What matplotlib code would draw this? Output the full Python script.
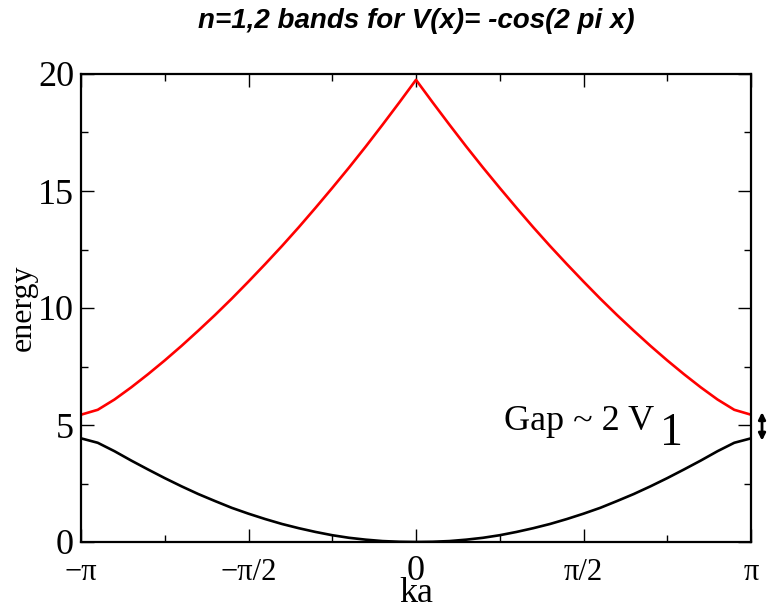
import numpy as np
import matplotlib
matplotlib.use("Agg")
import matplotlib.pyplot as plt
from matplotlib.ticker import MultipleLocator

# ka grid, -pi .. pi in steps of pi/20
ka = np.linspace(-np.pi, np.pi, 41)

band1 = [4.43, 4.24, 3.88, 3.48, 3.10, 2.73, 2.38, 2.05, 1.75, 1.46, 1.21,
         0.98, 0.77, 0.59, 0.43, 0.29, 0.18, 0.10, 0.04, 0.01, 0.00,
         0.01, 0.04, 0.10, 0.18, 0.29, 0.43, 0.59, 0.77, 0.98, 1.21,
         1.46, 1.75, 2.05, 2.38, 2.73, 3.10, 3.48, 3.88, 4.24, 4.43]
band2 = [5.44, 5.65, 6.09, 6.61, 7.17, 7.76, 8.38, 9.03, 9.70, 10.40, 11.13,
         11.88, 12.65, 13.45, 14.28, 15.13, 16.00, 16.90, 17.83, 18.78, 19.75,
         18.78, 17.83, 16.90, 16.00, 15.13, 14.28, 13.45, 12.65, 11.88, 11.13,
         10.40, 9.70, 9.03, 8.38, 7.76, 7.17, 6.61, 6.09, 5.65, 5.44]

xticks = [-np.pi, -np.pi / 2, 0, np.pi / 2, np.pi]
xticklabels = ["\u2212\u03c0", "\u2212\u03c0/2", "0", "\u03c0/2", "\u03c0"]
yticks = [0, 5, 10, 15, 20]

serif = "Liberation Serif"

fig = plt.figure(figsize=(7.69, 6.15), dpi=100)
ax = fig.add_axes([81 / 769, 1 - 542 / 615, 670 / 769, 468 / 615])

ax.plot(ka, band2, color="red", lw=1.9)
ax.plot(ka, band1, color="black", lw=1.9)

ax.set_xlim(-np.pi, np.pi)
ax.set_ylim(0, 20)
ax.set_xticks(xticks)
ax.set_xticklabels([""] * len(xticks))
# x tick labels drawn as text so they share one baseline ("0" is larger)
xlab_tr = ax.get_xaxis_transform()
for pos, lab in zip(xticks, xticklabels):
    size = 26 if lab == "0" else 22
    ax.text(pos, -0.0812, lab, transform=xlab_tr, family=serif,
            fontsize=size, ha="center", va="baseline")
ax.set_yticks(yticks)
ax.set_yticklabels([str(v) for v in yticks], family=serif, fontsize=26)
ax.xaxis.set_minor_locator(MultipleLocator(np.pi / 4))
ax.yaxis.set_minor_locator(MultipleLocator(2.5))
ax.tick_params(which="both", direction="in", top=True, right=True, width=1.0)
ax.tick_params(which="major", length=9.5)
ax.tick_params(which="minor", length=5)
ax.tick_params(axis="y", pad=5)
for s in ax.spines.values():
    s.set_linewidth(1.6)

ax.set_xlabel("ka", family=serif, fontsize=26)
ax.xaxis.set_label_coords(0.5, -0.075)
ax.set_ylabel("energy", family=serif, fontsize=23)
ax.yaxis.set_label_coords(-0.064, 0.5)

fig.text(416 / 769, 1 - 21 / 615, "n=1,2 bands for V(x)= -cos(2 pi x)",
         family="Liberation Sans", fontsize=20, fontweight="bold",
         fontstyle="italic", ha="center", va="center")

ax.text(0.825, 4.79, "Gap ~ 2 V", family=serif, fontsize=26)
ax.text(2.29, 4.15, "1", family=serif, fontsize=33)
ax.annotate("", xy=(3.245, 5.55), xytext=(3.245, 4.33),
            arrowprops=dict(arrowstyle="<|-|>", color="black", lw=2,
                            mutation_scale=10, shrinkA=0, shrinkB=0),
            annotation_clip=False)

fig.savefig("out.png", dpi=100)
